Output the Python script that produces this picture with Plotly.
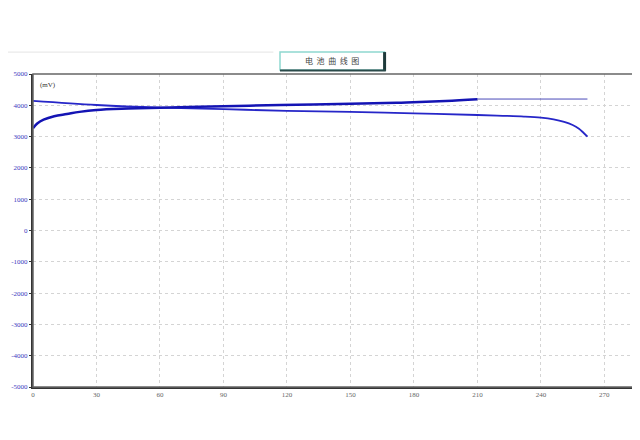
import plotly.graph_objects as go

# Data
charge_x = [0, 2, 5, 10, 16, 22, 30, 45, 60, 90, 117, 150, 174, 195, 210]
charge_y = [3270, 3420, 3540, 3650, 3720, 3790, 3850, 3895, 3925, 3970, 4010, 4050, 4085, 4140, 4195]
hold_x = [210, 262]
hold_y = [4200, 4200]
discharge_x = [0, 30, 60, 90, 120, 150, 180, 210, 222, 232, 240, 246, 251, 255, 258, 260, 262]
discharge_y = [4140, 4010, 3925, 3875, 3825, 3790, 3740, 3690, 3665, 3640, 3605, 3550, 3470, 3370, 3250, 3130, 3000]
x_ticks = [0, 30, 60, 90, 120, 150, 180, 210, 240, 270]
y_ticks = [-5000, -4000, -3000, -2000, -1000, 0, 1000, 2000, 3000, 4000, 5000]
title_text = "电  池  曲  线  图"
unit_text = "(mV)"

fig = go.Figure()
fig.add_trace(go.Scatter(x=discharge_x, y=discharge_y, mode="lines",
                         line=dict(color="#2626c8", width=1.8, shape="spline"), hoverinfo="skip"))
fig.add_trace(go.Scatter(x=hold_x, y=hold_y, mode="lines",
                         line=dict(color="#4a4ab8", width=1), hoverinfo="skip"))
fig.add_trace(go.Scatter(x=charge_x, y=charge_y, mode="lines",
                         line=dict(color="#1414b4", width=2.5, shape="spline"), hoverinfo="skip"))

fig.update_layout(
    width=640, height=440,
    margin=dict(l=25, r=14, t=66, b=61),
    paper_bgcolor="white", plot_bgcolor="white",
    showlegend=False,
    font=dict(family="Liberation Serif", size=7, color="#666"),
)
fig.update_xaxes(range=[0, 284], tickvals=x_ticks, ticktext=[str(v) for v in x_ticks],
                 showgrid=True, gridcolor="#d4d4d4", griddash="dot", gridwidth=1,
                 showline=True, linecolor="#333", linewidth=2, zeroline=False,
                 ticks="", tickfont=dict(family="Liberation Serif", size=7, color="#666"),
                 automargin=False)
fig.update_yaxes(range=[-5000, 5000], tickvals=y_ticks, ticktext=[str(v) for v in y_ticks],
                 showgrid=True, gridcolor="#d4d4d4", griddash="dot", gridwidth=1,
                 showline=True, linecolor="#333", linewidth=2, zeroline=False,
                 ticks="outside", ticklen=2, tickcolor="#333",
                 tickfont=dict(family="Liberation Serif", size=7, color="#3a3ac0"),
                 automargin=False)

# frame top/right
fig.add_shape(type="rect", xref="paper", yref="paper", x0=0, x1=1, y0=0, y1=1,
              line=dict(color="#666", width=1.5), layer="above")
# faint page lines
fig.add_shape(type="line", xref="paper", yref="paper", x0=-0.06, x1=0.40, y0=1.07, y1=1.07,
              line=dict(color="#e4e4e4", width=1))
fig.add_shape(type="line", xref="paper", yref="paper", x0=-0.047, x1=-0.047, y0=-0.06, y1=1.07,
              line=dict(color="#e8e8e8", width=1))
# title box
fig.add_shape(type="rect", xref="paper", yref="paper", x0=0.411, x1=0.585, y0=1.013, y1=1.070,
              line=dict(color="#8fd8d0", width=1.5), fillcolor="white")
fig.add_shape(type="line", xref="paper", yref="paper", x0=0.585, x1=0.585, y0=1.010, y1=1.070,
              line=dict(color="#1e3a3a", width=3))
fig.add_shape(type="line", xref="paper", yref="paper", x0=0.411, x1=0.587, y0=1.011, y1=1.011,
              line=dict(color="#2a4a4a", width=2))
fig.add_annotation(xref="paper", yref="paper", x=0.497, y=1.043, text=title_text,
                   yanchor="middle", showarrow=False,
                   font=dict(family="Noto Sans CJK SC", size=8, color="#444"))
fig.add_annotation(xref="paper", yref="paper", x=0.008, y=0.985, xanchor="left", yanchor="top",
                   text=unit_text, showarrow=False, font=dict(family="Liberation Serif", size=7, color="#333"))

fig.write_html("out.html")
